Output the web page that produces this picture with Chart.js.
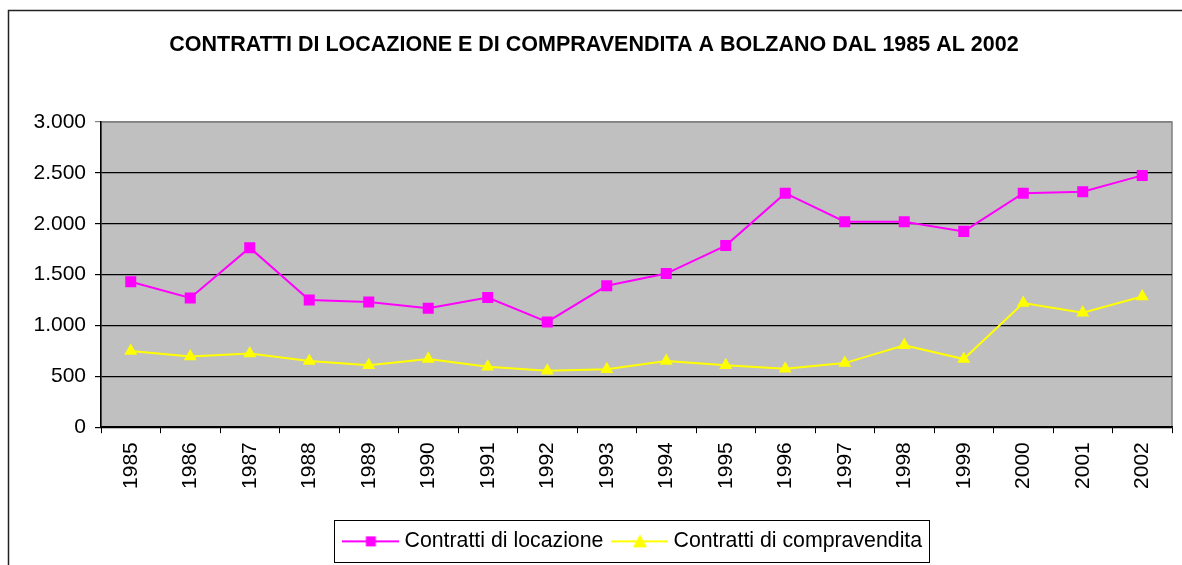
<!DOCTYPE html>
<html>
<head>
<meta charset="utf-8">
<script src="https://cdn.jsdelivr.net/npm/chart.js@4/dist/chart.umd.min.js"></script>
<style>
  html, body { margin: 0; padding: 0; background: #fff; }
  #wrap { width: 1182px; height: 565px; position: relative; }
</style>
</head>
<body>
<div id="wrap"><canvas id="c" width="1182" height="565"></canvas></div>
<script>
const chartTitle = 'CONTRATTI DI LOCAZIONE E DI COMPRAVENDITA A BOLZANO DAL 1985 AL 2002';
const years = ['1985','1986','1987','1988','1989','1990','1991','1992','1993','1994','1995','1996','1997','1998','1999','2000','2001','2002'];
const seriesNames = ['Contratti di locazione', 'Contratti di compravendita'];
const locazione = [1430,1270,1765,1250,1230,1170,1275,1035,1390,1510,1785,2300,2020,2020,1925,2300,2315,2475];
const compravendita = [750,695,725,650,610,670,595,555,570,650,610,575,630,805,670,1220,1125,1285];
const yTickValues = [0,500,1000,1500,2000,2500,3000];
const yTickLabels = ['0','500','1.000','1.500','2.000','2.500','3.000'];

const FONT = 'Arial, "Liberation Sans", sans-serif';
const MAGENTA = '#FF00FF';
const YELLOW = '#FFFF00';
const LEGEND_SHIFT = 49;
const TITLE_SHIFT = 8;
const LEGEND_PAD = 13.5;

function legendIcon(color, kind) {
  const cv = document.createElement('canvas');
  cv.width = 57; cv.height = 20;
  const g = cv.getContext('2d');
  g.strokeStyle = color; g.lineWidth = 2;
  g.beginPath(); g.moveTo(0, 10); g.lineTo(57, 10); g.stroke();
  g.fillStyle = color;
  if (kind === 'rect') {
    g.fillRect(28.5 - 5, 10 - 5, 10, 10);
  } else {
    g.beginPath();
    g.moveTo(28.5, 3); g.lineTo(35.5, 16); g.lineTo(21.5, 16); g.closePath(); g.fill();
  }
  return cv;
}
const icons = [legendIcon(MAGENTA, 'rect'), legendIcon(YELLOW, 'triangle')];

const decor = {
  id: 'decor',
  afterLayout(chart) {
    const lg = chart.legend;
    if (lg) { lg.left += LEGEND_SHIFT; lg.right += LEGEND_SHIFT; }
    const tb = chart.titleBlock;
    if (tb) { tb.left += TITLE_SHIFT; tb.right += TITLE_SHIFT; }
  },
  beforeDraw(chart) {
    const { ctx, chartArea: a } = chart;
    ctx.save();
    ctx.fillStyle = '#C0C0C0';
    ctx.fillRect(a.left, a.top, a.right - a.left, a.bottom - a.top);
    ctx.strokeStyle = '#808080';
    ctx.lineWidth = 1.5;
    ctx.strokeRect(a.left, a.top, a.right - a.left, a.bottom - a.top);
    ctx.strokeStyle = '#222';
    ctx.lineWidth = 1.5;
    ctx.strokeRect(8.5, 10.5, 1300, 700);
    ctx.restore();
  },
  afterDraw(chart) {
    const lg = chart.legend;
    if (!lg || !lg.lineWidths) return;
    const rowW = lg.lineWidths[0];
    const startX = (lg.left + LEGEND_PAD + lg.right - rowW) / 2;
    const endX = startX + rowW - LEGEND_PAD;
    const left = startX - 13.5;
    const right = endX + 7;
    const cy = lg.top + LEGEND_PAD + 10.5;
    const ctx = chart.ctx;
    ctx.save();
    ctx.strokeStyle = '#000';
    ctx.lineWidth = 1;
    ctx.strokeRect(Math.round(left) + 0.5, Math.round(cy - 21) + 0.5, Math.round(right - left), 42);
    ctx.restore();
  }
};

new Chart(document.getElementById('c'), {
  type: 'line',
  data: {
    labels: years,
    datasets: [
      {
        label: seriesNames[0],
        data: locazione,
        borderColor: MAGENTA,
        backgroundColor: MAGENTA,
        borderWidth: 2,
        pointStyle: 'rect',
        pointRadius: 7.8,
        pointHoverRadius: 7.8,
        pointBorderWidth: 0,
        tension: 0
      },
      {
        label: seriesNames[1],
        data: compravendita,
        borderColor: YELLOW,
        backgroundColor: YELLOW,
        borderWidth: 2,
        pointStyle: 'triangle',
        pointRadius: 7.5,
        pointHoverRadius: 7.5,
        pointBorderWidth: 0,
        tension: 0
      }
    ]
  },
  options: {
    responsive: false,
    animation: false,
    devicePixelRatio: 1,
    layout: { padding: { left: 0, right: 10, top: 0, bottom: 3 } },
    plugins: {
      tooltip: { enabled: false },
      title: {
        display: true,
        text: chartTitle,
        color: '#000',
        font: { family: FONT, size: 21.5, weight: 'bold', lineHeight: 1.2 },
        padding: { top: 32, bottom: 64.2 }
      },
      legend: {
        display: true,
        position: 'bottom',
        labels: {
          usePointStyle: true,
          pointStyleWidth: 46,
          padding: LEGEND_PAD,
          color: '#000',
          font: { family: FONT, size: 21.3 },
          generateLabels(chart) {
            const items = Chart.defaults.plugins.legend.labels.generateLabels(chart);
            items.forEach((it, i) => { it.pointStyle = icons[i]; });
            return items;
          }
        }
      }
    },
    scales: {
      x: {
        offset: true,
        grid: {
          offset: true,
          drawOnChartArea: false,
          drawTicks: true,
          tickLength: 6,
          color: '#000'
        },
        border: { display: true, color: '#000', width: 1.5 },
        ticks: {
          color: '#000',
          font: { family: FONT, size: 21 },
          minRotation: 90,
          maxRotation: 90,
          padding: 9,
          autoSkip: false
        },
        afterFit(scale) { scale.height = 90; }
      },
      y: {
        min: 0,
        max: 3000,
        afterBuildTicks(scale) { scale.ticks = yTickValues.map(v => ({ value: v })); },
        grid: {
          color: (c) => (c.tick && c.tick.value === 3000) ? '#808080' : '#000',
          lineWidth: 1.2,
          tickLength: 6,
          drawTicks: true
        },
        border: { display: true, color: '#000', width: 1.5 },
        ticks: {
          color: '#000',
          font: { family: FONT, size: 21 },
          padding: 9,
          callback(value, index) { return yTickLabels[yTickValues.indexOf(value)]; }
        },
        afterFit(scale) { scale.width = 101; }
      }
    }
  },
  plugins: [decor]
});
</script>
</body>
</html>
